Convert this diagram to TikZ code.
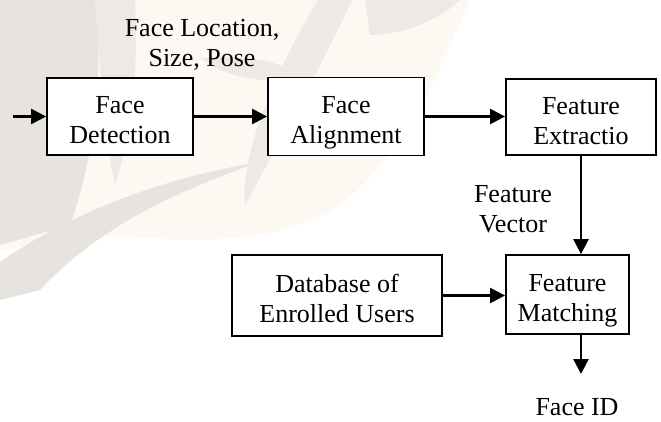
\documentclass[tikz,border=0pt]{standalone}
\usepackage{fontspec}
\setmainfont{Liberation Serif}
\usetikzlibrary{arrows.meta}
\definecolor{wmgray}{HTML}{EDE9E5}
\definecolor{wmgrayd}{HTML}{E7E3DF}
\definecolor{wmcream}{HTML}{FDF8F1}
\begin{document}
\begin{tikzpicture}[x=1pt,y=-1pt,
  txt/.style={font=\fontsize{26}{30}\selectfont, align=center, inner sep=0pt},
  box/.style={txt, draw=black, line width=1.8pt, fill=white, text height=54pt, text depth=0pt},
  arr/.style={line width=2.4pt, -{Triangle[length=15pt,width=15pt]}}]
\useasboundingbox (0,0) rectangle (661,421);
\fill[white] (0,0) rectangle (661,421);
% faint watermark background
\fill[wmcream] (0,0) -- (470,0) .. controls (440,70) and (400,160) .. (340,205) .. controls (290,240) and (200,245) .. (120,235) -- (0,250) -- cycle;
\fill[wmgrayd] (0,0) -- (95,0) .. controls (102,60) and (100,140) .. (70,225) -- (0,245) -- cycle;
\fill[wmgray] (95,0) -- (135,0) .. controls (138,60) and (135,120) .. (115,185) .. controls (105,140) and (100,70) .. (95,0) -- cycle;
\fill[wmgrayd] (0,262) .. controls (60,220) and (150,180) .. (255,163) .. controls (200,185) and (110,215) .. (40,290) -- (0,300) -- cycle;
\fill[wmgray] (318,0) -- (352,0) .. controls (320,70) and (280,140) .. (245,205) .. controls (240,160) and (270,80) .. (318,0) -- cycle;
\fill[wmgray] (200,58) .. controls (240,55) and (280,60) .. (300,75) .. controls (270,85) and (230,80) .. (200,58) -- cycle;
\fill[wmgray] (365,0) -- (460,0) .. controls (440,20) and (400,35) .. (370,35) -- cycle;

% boxes
\node[box, minimum width=146pt, minimum height=77pt] (fd) at (120,116.5) {Face\\Detection};
\node[box, minimum width=156pt, minimum height=78pt] (fa) at (346,116.5) {Face\\Alignment};
\node[box, minimum width=150pt, minimum height=76pt] (fe) at (581,117) {Feature\\Extractio};
\node[box, minimum width=123pt, minimum height=79pt] (fm) at (567.5,294.5) {Feature\\Matching};
\node[box, minimum width=210pt, minimum height=81pt] (db) at (337,295.5) {Database of\\Enrolled Users};

% labels
\node[txt] (lbl1) at (202,45) {Face Location,\\Size, Pose};
\node[txt] (lbl2) at (513,209) {Feature\\Vector};
\node[txt] (lbl3) at (577,407) {Face ID};

% connectors
\coordinate (in) at (13,116.5);
\coordinate (out) at (581,374);
\draw[arr] (in) -- (fd.west);
\draw[arr] (fd.east) -- (fd.east -| fa.west);
\draw[arr] (fa.east) -- (fa.east -| fe.west);
\draw[arr] (fe.south) -- (fe.south |- fm.north);
\draw[arr] (db.east) -- (db.east -| fm.west);
\draw[arr] (fe.south |- fm.south) -- (out);
\end{tikzpicture}
\end{document}
